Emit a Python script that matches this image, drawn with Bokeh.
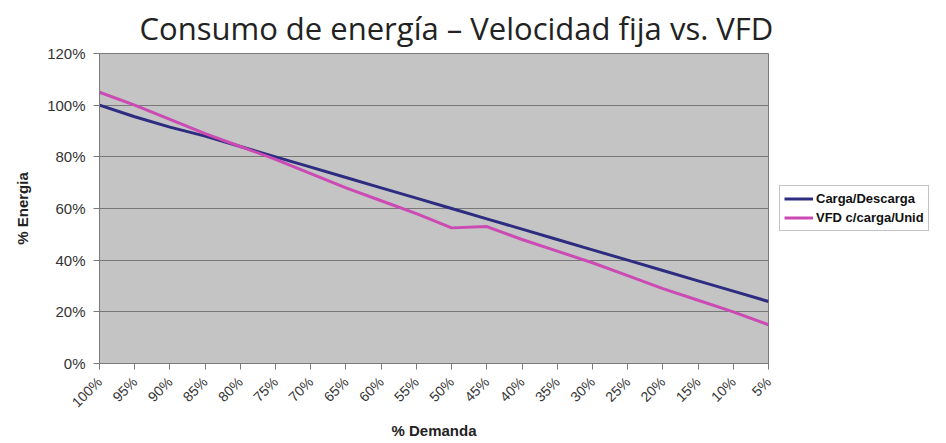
from bokeh.plotting import figure
from bokeh.models import Range1d, FixedTicker, Legend, LegendItem, ColumnDataSource
from bokeh.embed import file_html
from bokeh.resources import INLINE
import math

demand_labels = ["100%", "95%", "90%", "85%", "80%", "75%", "70%", "65%", "60%", "55%",
                 "50%", "45%", "40%", "35%", "30%", "25%", "20%", "15%", "10%", "5%"]
carga_descarga = [100, 95.5, 91.5, 88, 84, 80, 76, 72, 68, 64,
                  60, 56, 52, 48, 44, 40, 36, 32, 28, 24]
vfd_carga = [105, 100, 94.5, 89, 84, 79, 73.5, 68, 63, 58,
             52.5, 53, 48, 43.5, 39, 34, 29, 24.5, 20, 15]
y_ticks = [0, 20, 40, 60, 80, 100, 120]

idx = list(range(len(demand_labels)))
src = ColumnDataSource(dict(x=idx, a=carga_descarga, b=vfd_carga))

p = figure(width=938, height=443, output_backend="svg", toolbar_location=None,
           x_range=Range1d(0, len(demand_labels) - 1), y_range=Range1d(0, 120),
           min_border_left=99, min_border_right=170, min_border_top=53, min_border_bottom=80)
p.frame_width = 669
p.frame_height = 310

p.background_fill_color = "#c4c4c4"
p.border_fill_color = "white"
p.outline_line_color = "#7a7a7a"
p.outline_line_width = 1

p.title.text = "Consumo de energía – Velocidad fija vs. VFD"
p.title.text_font = "Open Sans"
p.title.text_font_size = "31px"
p.title.text_font_style = "normal"
p.title.text_color = "#222222"
p.title.align = "left"
p.title.offset = 40
p.title.standoff = 9

r1 = p.line("x", "a", source=src, line_color="#2E2C80", line_width=3)
r2 = p.line("x", "b", source=src, line_color="#CC4AB4", line_width=3)

p.xaxis.ticker = FixedTicker(ticks=idx)
p.xaxis.major_label_overrides = {i: lab for i, lab in zip(idx, demand_labels)}
p.xaxis.major_label_orientation = math.pi / 4
p.yaxis.ticker = FixedTicker(ticks=y_ticks)
p.yaxis.major_label_overrides = {v: f"{v}%" for v in y_ticks}

for ax in (p.xaxis, p.yaxis):
    ax.axis_line_color = "#7a7a7a"
    ax.major_tick_line_color = "#7a7a7a"
    ax.major_tick_out = 6
    ax.major_tick_in = 0
    ax.minor_tick_line_color = None
    ax.major_label_text_font = "Liberation Sans"
    ax.major_label_text_font_size = "15px"
    ax.major_label_text_color = "#333333"
    ax.axis_label_text_font = "Liberation Sans"
    ax.axis_label_text_font_size = "15px"
    ax.axis_label_text_font_style = "bold"
    ax.axis_label_text_color = "#222222"

p.xaxis.major_label_text_font_size = "14px"
p.xaxis.major_label_standoff = 10
p.xaxis.axis_label_standoff = 3
p.yaxis.major_label_standoff = 8
p.yaxis.axis_label_standoff = 13
p.xaxis.axis_label = "% Demanda"
p.yaxis.axis_label = "% Energia"

p.xgrid.grid_line_color = None
p.ygrid.grid_line_color = "#777777"
p.ygrid.grid_line_width = 1

legend = Legend(items=[LegendItem(label="Carga/Descarga", renderers=[r1]),
                       LegendItem(label="VFD c/carga/Unid", renderers=[r2])],
                location="left")
legend.label_text_font = "Liberation Sans"
legend.label_text_font_size = "13px"
legend.label_text_font_style = "bold"
legend.label_text_color = "#111111"
legend.border_line_color = "#888888"
legend.border_line_width = 1
legend.background_fill_color = "white"
legend.background_fill_alpha = 1
legend.glyph_width = 29
legend.glyph_height = 17
legend.label_height = 17
legend.spacing = 2
legend.padding = 4
legend.margin = 11
legend.label_standoff = 3
p.add_layout(legend, "right")

open("out.html", "w").write(file_html(p, INLINE))
